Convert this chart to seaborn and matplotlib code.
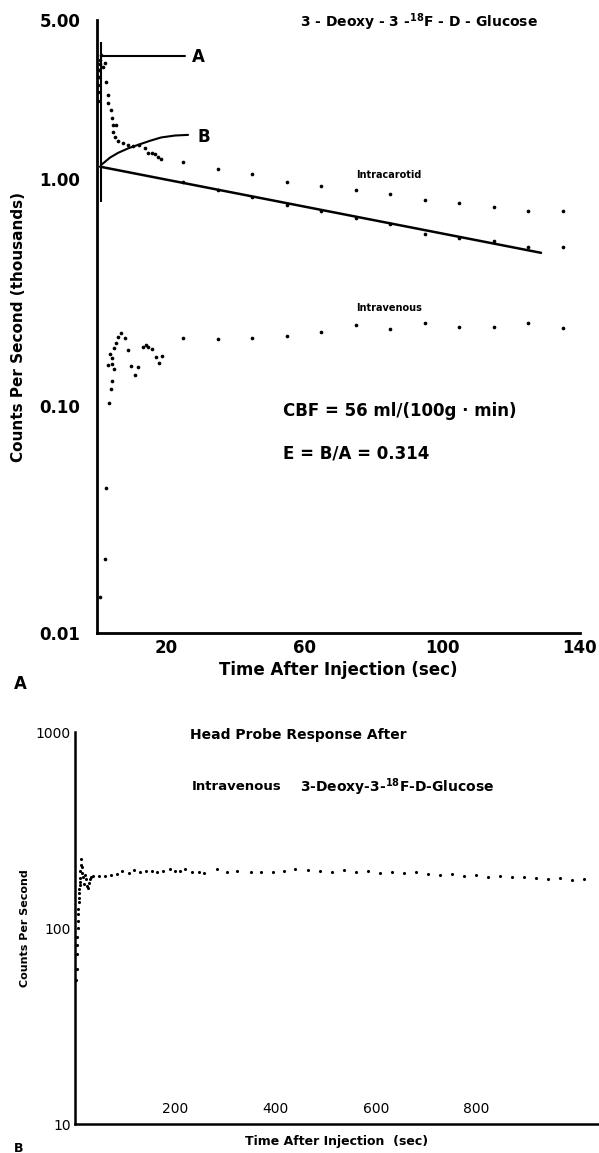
import numpy as np
import matplotlib
matplotlib.use("Agg")
import matplotlib.pyplot as plt
from matplotlib.ticker import NullLocator, FixedLocator
import seaborn as sns

# ---- panel A data (time in sec, counts per second in thousands) ----
ic_early_t = [0.2, 0.3, 0.4, 0.5, 0.6, 0.8, 1.0, 1.2, 2.3, 1.7, 2.6, 3.2, 3.2, 4.1, 4.3, 4.6, 5.5,
              4.6, 5.2, 6.1, 7.5, 9.0, 10.4, 12.2, 13.9, 14.8, 15.9, 16.8, 17.7, 18.6]
ic_early_v = [2.2, 2.4, 2.6, 2.8, 3.0, 3.2, 3.35, 3.5, 3.24, 3.11, 2.68, 2.34, 2.16, 2.01, 1.86, 1.73, 1.73,
              1.61, 1.52, 1.46, 1.43, 1.41, 1.40, 1.41, 1.37, 1.30, 1.30, 1.28, 1.25, 1.22]

late_t = [25, 35, 45, 55, 65, 75, 85, 95, 105, 115, 125, 135]
ic_upper_v = [1.18, 1.10, 1.05, 0.97, 0.93, 0.89, 0.86, 0.81, 0.78, 0.75, 0.72, 0.72]
ic_lower_v = [0.97, 0.89, 0.83, 0.77, 0.72, 0.67, 0.63, 0.57, 0.55, 0.53, 0.50, 0.50]

iv_early_t = [0.9, 2.3, 2.6, 3.5, 4.1, 4.3, 3.2, 4.3, 4.9, 4.3, 3.8, 4.9, 5.5, 6.1, 7.0, 8.1, 9.0,
              9.9, 11.0, 11.9, 13.3, 14.2, 14.8, 15.9, 17.1, 18.0, 18.8]
iv_early_v = [0.0144, 0.0212, 0.0435, 0.103, 0.119, 0.129, 0.152, 0.153, 0.146, 0.163, 0.170, 0.180,
              0.190, 0.201, 0.210, 0.199, 0.177, 0.150, 0.137, 0.149, 0.182, 0.186, 0.182, 0.178,
              0.164, 0.155, 0.166]
iv_late_v = [0.199, 0.197, 0.199, 0.203, 0.212, 0.227, 0.218, 0.232, 0.223, 0.223, 0.232, 0.221]

fit_t = [0.9, 128.7]
fit_v = [1.13, 0.472]

marker_t = 1.2
marker_v = [0.79, 4.0]
a_line_t = [1.2, 25.5]
a_line_v = [3.48, 3.48]
b_curve_t = [1.2, 3.8, 6.1, 9.0, 11.9, 15.4, 18.6, 22.6, 26.4]
b_curve_v = [1.15, 1.24, 1.30, 1.36, 1.41, 1.47, 1.52, 1.55, 1.56]

# ---- panel B data (time in sec, counts per second) ----
hp_early_t = [2, 3, 3, 4, 4, 5, 5, 6, 6, 7, 7, 8, 8, 9, 9, 10, 10, 11, 12, 13, 14, 16, 18, 20, 22,
              24, 26, 28, 30, 32]
hp_early_v = [54, 62, 74, 82, 90, 100, 108, 118, 125, 135, 142, 150, 158, 165, 172, 180, 195, 210,
              225, 205, 190, 182, 168, 186, 178, 164, 160, 170, 178, 182]
hp_t = [36, 48, 60, 72, 84, 94, 108, 118, 130, 142, 154, 164, 176, 190, 200, 210, 220, 234, 248, 258,
        284, 304, 324, 350, 370, 394, 416, 438, 464, 488, 512, 536, 560, 584, 608, 632, 656, 680,
        704, 728, 752, 776, 800, 824, 848, 872, 896, 920, 944, 968, 992, 1016]
hp_v = [184, 184, 184, 186, 188, 196, 191, 198, 193, 196, 196, 193, 196, 199, 196, 196, 199, 193,
        193, 191, 199, 193, 196, 193, 193, 193, 196, 199, 197, 196, 194, 197, 193, 195, 191, 193,
        190, 192, 188, 186, 189, 184, 186, 182, 185, 181, 183, 179, 178, 180, 176, 178]

a_yticks = [0.01, 0.1, 1.0, 5.0]
a_yticklabels = ["0.01", "0.10", "1.00", "5.00"]
a_xticks = [20, 40, 60, 80, 100, 120, 140]
a_xticklabels = ["20", "", "60", "", "100", "", "140"]
b_yticks = [10, 100, 1000]
b_yticklabels = ["10", "100", "1000"]
b_xticks = [100, 200, 300, 400, 500, 600, 700, 800]
b_xticklabels = ["", "200", "", "400", "", "600", "", "800"]

sns.set_style("white")
plt.rcParams["font.family"] = ["DejaVu Sans"]
plt.rcParams["text.color"] = "black"
plt.rcParams["axes.labelcolor"] = "black"
plt.rcParams["xtick.color"] = "black"
plt.rcParams["ytick.color"] = "black"
plt.rcParams["axes.edgecolor"] = "black"

fig = plt.figure(figsize=(5.99, 11.53), dpi=100)

# ---------------- panel A ----------------
ax = fig.add_axes([97 / 599, 1 - 633 / 1153, (580 - 97) / 599, (633 - 20) / 1153])
dot = dict(color="black", s=7, linewidth=0, ax=ax)
sns.scatterplot(x=ic_early_t, y=ic_early_v, **dot)
sns.scatterplot(x=late_t, y=ic_upper_v, **dot)
sns.scatterplot(x=late_t, y=ic_lower_v, **dot)
sns.scatterplot(x=iv_early_t, y=iv_early_v, **dot)
sns.scatterplot(x=late_t, y=iv_late_v, **dot)
sns.lineplot(x=fit_t, y=fit_v, color="black", lw=1.8, ax=ax)
sns.lineplot(x=a_line_t, y=a_line_v, color="black", lw=1.5, ax=ax)
sns.lineplot(x=b_curve_t, y=b_curve_v, color="black", lw=1.5, ax=ax, sort=False, estimator=None)
ax.vlines(marker_t, marker_v[0], marker_v[1], color="black", lw=1.5)

ax.set_yscale("log")
ax.set_xlim(0, 140)
ax.set_ylim(0.01, 5.0)
ax.yaxis.set_major_locator(FixedLocator(a_yticks))
ax.yaxis.set_minor_locator(NullLocator())
ax.set_yticklabels(a_yticklabels)
ax.set_xticks(a_xticks)
ax.set_xticklabels(a_xticklabels)
ax.tick_params(axis="y", direction="in", length=5, width=1.5, labelsize=12, pad=12)
ax.tick_params(axis="x", direction="in", length=5, width=1.5, labelsize=12, pad=4)
for lab in ax.get_xticklabels() + ax.get_yticklabels():
    lab.set_fontweight("bold")
sns.despine(ax=ax)
for sp in ["left", "bottom"]:
    ax.spines[sp].set_linewidth(2)
ax.set_xlabel("Time After Injection (sec)", fontsize=12, fontweight="bold", labelpad=3)
ax.set_ylabel("Counts Per Second (thousands)", fontsize=11, fontweight="bold", labelpad=10)

ax.text(27.5, 3.45, "A", fontsize=12, fontweight="bold", va="center")
ax.text(29.0, 1.53, "B", fontsize=12, fontweight="bold", va="center")
ax.text(75, 1.04, "Intracarotid", fontsize=7, fontweight="bold", va="center")
ax.text(75, 0.27, "Intravenous", fontsize=7, fontweight="bold", va="center")
ax.text(54, 0.095, "CBF = 56 ml/(100g · min)", fontsize=12, fontweight="bold", va="center")
ax.text(54, 0.062, "E = B/A = 0.314", fontsize=12, fontweight="bold", va="center")
fig.text(300 / 599, 1 - 22 / 1153, r"3 - Deoxy - 3 -$^{\mathbf{18}}$F - D - Glucose",
         fontsize=10, fontweight="bold", va="center")
fig.text(14 / 599, 1 - 684 / 1153, "A", fontsize=12, fontweight="bold", va="center")

# ---------------- panel B ----------------
bx = fig.add_axes([75 / 599, 1 - 1124 / 1153, (599 - 75) / 599, (1124 - 732) / 1153])
dotb = dict(color="black", s=5, linewidth=0, ax=bx)
sns.scatterplot(x=hp_early_t, y=hp_early_v, **dotb)
sns.scatterplot(x=hp_t, y=hp_v, **dotb)

bx.set_yscale("log")
bx.set_xlim(0, 1045)
bx.set_ylim(10, 1000)
bx.yaxis.set_major_locator(FixedLocator(b_yticks))
bx.yaxis.set_minor_locator(NullLocator())
bx.set_yticklabels(b_yticklabels)
bx.set_xticks(b_xticks)
bx.set_xticklabels(b_xticklabels)
bx.tick_params(axis="y", direction="in", length=5, width=1.3, labelsize=10, pad=3)
bx.tick_params(axis="x", direction="in", length=4, width=1.3, labelsize=10, pad=-16)
sns.despine(ax=bx)
for sp in ["left", "bottom"]:
    bx.spines[sp].set_linewidth(1.8)
bx.set_xlabel("Time After Injection  (sec)", fontsize=9, fontweight="bold", labelpad=8)
bx.set_ylabel("Counts Per Second", fontsize=8, fontweight="bold", labelpad=4)

fig.text(190 / 599, 1 - 735 / 1153, "Head Probe Response After", fontsize=10,
         fontweight="bold", va="center")
fig.text(192 / 599, 1 - 787 / 1153, "Intravenous", fontsize=9.5, fontweight="bold", va="center")
fig.text(300 / 599, 1 - 787 / 1153, r"3-Deoxy-3-$^{\mathbf{18}}$F-D-Glucose",
         fontsize=10, fontweight="bold", va="center")
fig.text(14 / 599, 1 - 1148 / 1153, "B", fontsize=9, fontweight="bold", va="center")

fig.savefig("out.png", dpi=100, facecolor="white")
